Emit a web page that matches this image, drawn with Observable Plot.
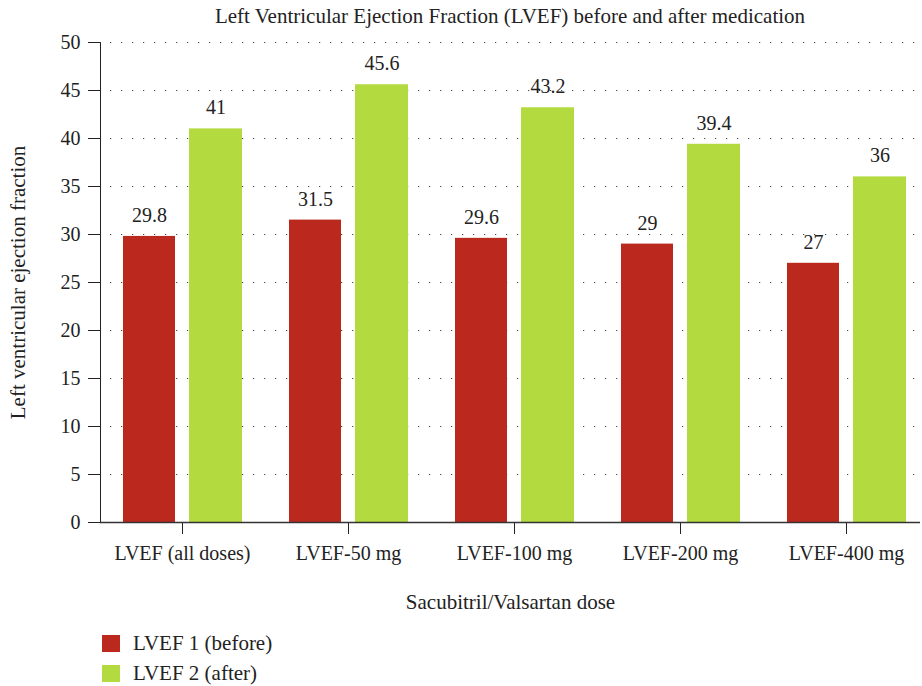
<!DOCTYPE html>
<html>
<head>
<meta charset="utf-8">
<script src="https://cdn.jsdelivr.net/npm/d3@7"></script>
<script src="https://cdn.jsdelivr.net/npm/@observablehq/plot@0.6"></script>
<style>
  body { margin: 0; background: #fff; font-family: "Liberation Serif", "DejaVu Serif", serif; color: #222; }
  #wrap { position: relative; width: 922px; height: 686px; overflow: hidden; }
  #title { position: absolute; top: 0; left: 100px; width: 820px; height: 32px; line-height: 32px; text-align: center; font-size: 21px; }
  #chart { position: absolute; top: 30px; left: 0; }
  .leg { position: absolute; left: 102px; height: 18px; font-size: 21px; display: flex; align-items: center; }
  .sw { width: 18px; height: 17px; margin-right: 13px; }
</style>
</head>
<body>
<div id="wrap">
  <div id="title">Left Ventricular Ejection Fraction (LVEF) before and after medication</div>
  <div id="chart"></div>
  <div class="leg" style="top:634px"><div class="sw" style="background:#bb281e"></div>LVEF 1 (before)</div>
  <div class="leg" style="top:664px"><div class="sw" style="background:#b3db3f"></div>LVEF 2 (after)</div>
</div>
<script>
const categories = ["LVEF (all doses)", "LVEF-50 mg", "LVEF-100 mg", "LVEF-200 mg", "LVEF-400 mg"];
const before = [29.8, 31.5, 29.6, 29, 27];
const after = [41, 45.6, 43.2, 39.4, 36];
const yTicks = [0, 5, 10, 15, 20, 25, 30, 35, 40, 45, 50];
const gridTicks = [5, 10, 15, 20, 25, 30, 35, 40, 45, 50];

const beforeData = categories.map((c, i) => ({cat: c, v: before[i]}));
const afterData = categories.map((c, i) => ({cat: c, v: after[i]}));

const red = "#bb281e", green = "#b3db3f";

const plot = Plot.plot({
  width: 922,
  height: 600,
  marginLeft: 100,
  marginRight: 2,
  marginTop: 12,
  marginBottom: 108,
  style: {fontFamily: "Liberation Serif, serif", fontSize: "20px", color: "#222", background: "white"},
  x: {type: "band", domain: categories, range: [99, 929], padding: 0, tickSize: 12, tickPadding: 11, label: null},
  y: {domain: [0, 50], ticks: yTicks, tickSize: 12, tickPadding: 8, line: true, label: null},
  marks: [
    Plot.ruleY(gridTicks, {stroke: "#444", strokeWidth: 1.2, strokeDasharray: "1.2,9.8", strokeDashoffset: 1}),
    Plot.barY(beforeData, {x: "cat", y: "v", fill: red, insetLeft: 24, insetRight: 90}),
    Plot.barY(afterData, {x: "cat", y: "v", fill: green, insetLeft: 90, insetRight: 23}),
    Plot.text(beforeData, {x: "cat", y: "v", text: d => String(d.v), dx: -33, dy: -21, fill: "#222", fontSize: 20}),
    Plot.text(afterData, {x: "cat", y: "v", text: d => String(d.v), dx: 33.5, dy: -21, fill: "#222", fontSize: 20}),
    Plot.ruleY([0], {stroke: "#333", strokeWidth: 1.3}),
    Plot.text(["Sacubitril/Valsartan dose"], {frameAnchor: "bottom", dy: 86, fontSize: 21, fill: "#222"}),
    Plot.text(["Left ventricular ejection fraction"], {frameAnchor: "left", textAnchor: "middle", dx: -82, rotate: -90, fontSize: 21, fill: "#222"})
  ]
});
document.getElementById("chart").appendChild(plot);
</script>
</body>
</html>
